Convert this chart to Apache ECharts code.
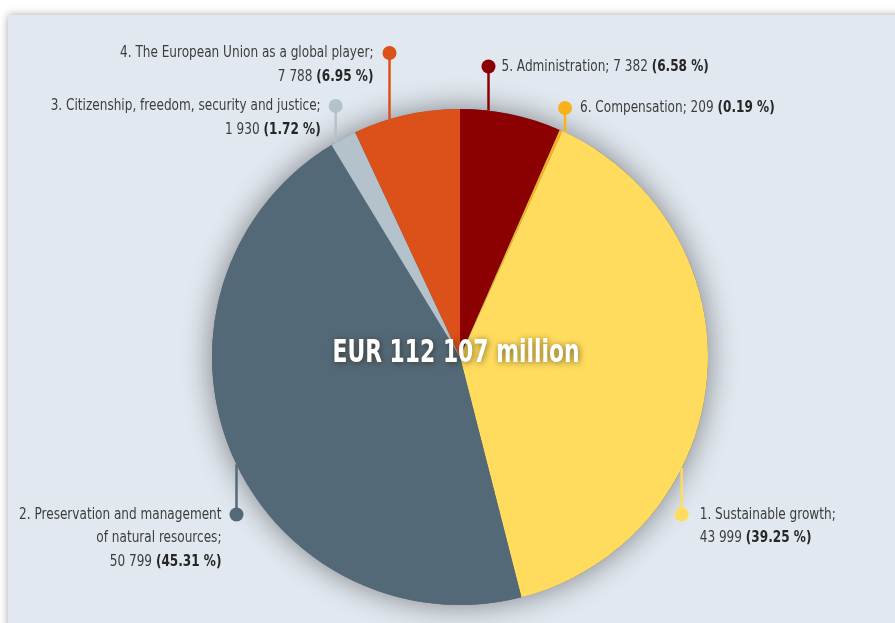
<!DOCTYPE html>
<html>
<head>
<meta charset="utf-8">
<script src="https://cdn.jsdelivr.net/npm/echarts@6/dist/echarts.min.js"></script>
<style>
  html, body { margin: 0; padding: 0; background: #ffffff; overflow: hidden; }
  #panel { position: absolute; left: 8px; top: 15px; width: 900px; height: 620px;
           background: #e1e8ef; box-shadow: 0 0 8px rgba(0,0,0,0.35); }
  #chart { position: absolute; left: 0; top: 0; width: 895px; height: 623px; }
</style>
</head>
<body>
<div id="panel"></div>
<div id="chart"></div>
<script>
// ---- data (clockwise from 12 o'clock) ----
const categoryLines = [
  ['5. Administration;'],
  ['6. Compensation;'],
  ['1. Sustainable growth;'],
  ['2. Preservation and management', 'of natural resources;'],
  ['3. Citizenship, freedom, security and justice;'],
  ['4. The European Union as a global player;']
];
const values = [7382, 209, 43999, 50799, 1930, 7788];
const valueTexts = ['7 382', '209', '43 999', '50 799', '1 930', '7 788'];
const percentTexts = ['6.58 %', '0.19 %', '39.25 %', '45.31 %', '1.72 %', '6.95 %'];
const totalText = 'EUR 112 107 million';

// ---- styles / layout ----
const colors = ['#8b0000', '#f8b21c', '#ffdc5e', '#546977', '#b4c2cb', '#dc5119'];
const CX = 460, CY = 357, R = 248;
const DOT = 14, LINE_H = 23.5, TEXT_SCALE = 0.84;
const FONT = '"Liberation Sans Narrow", "Arial Narrow", "DejaVu Sans Condensed", sans-serif';
const sameLine = [true, true, false, false, false, false];
const labelSpec = [
  { dotX: 488.5, dotY: 66.5, side: 'left',  edge: 'top',    gap: 6 },
  { dotX: 565,   dotY: 108,  side: 'left',  edge: 'top',    gap: 8 },
  { dotX: 681.7, dotY: 514.5, side: 'left', edge: 'bottom', gap: 11 },
  { dotX: 236.5, dotY: 514.5, side: 'right', edge: 'bottom', gap: 8 },
  { dotX: 335.7, dotY: 106,  side: 'right', edge: 'top',    gap: 8 },
  { dotX: 389.5, dotY: 53,   side: 'right', edge: 'top',    gap: 9 }
];

function labelRich(i) {
  const lines = categoryLines[i].map(function (l) { return '{t|' + l + '}'; });
  if (sameLine[i]) {
    const last = categoryLines[i][categoryLines[i].length - 1];
    lines[lines.length - 1] = '{t|' + last + ' ' + valueTexts[i] + ' }{b|(' + percentTexts[i] + ')}';
  } else {
    lines.push('{t|' + valueTexts[i] + ' }{b|(' + percentTexts[i] + ')}');
  }
  return lines.join('\n');
}

const pieData = values.map(function (v, i) {
  return {
    value: v,
    name: categoryLines[i].join(' '),
    itemStyle: { color: colors[i] },
    label: {
      show: true,
      formatter: '{dot| }',
      rich: {
        dot: { width: DOT, height: DOT, borderRadius: DOT / 2, backgroundColor: colors[i], lineHeight: DOT, fontSize: 10 }
      }
    },
    labelLine: { show: true, lineStyle: { color: colors[i], width: 2.5 } }
  };
});

const textGraphics = labelSpec.map(function (s, i) {
  const al = s.side;
  const base = { fontFamily: FONT, fontSize: 16, lineHeight: LINE_H, align: al };
  return {
    type: 'text',
    x: s.side === 'left' ? s.dotX + DOT / 2 + s.gap : s.dotX - DOT / 2 - s.gap,
    y: s.dotY - LINE_H / 2,
    scaleX: TEXT_SCALE,
    z: 50,
    silent: true,
    style: {
      text: labelRich(i),
      align: al,
      verticalAlign: 'top',
      fontFamily: FONT,
      fontSize: 16,
      lineHeight: LINE_H,
      fill: '#3d3d3d',
      rich: {
        t: Object.assign({}, base, { fill: '#3d3d3d', color: '#3d3d3d' }),
        b: Object.assign({}, base, { fill: '#262626', color: '#262626', fontWeight: 'bold' })
      }
    }
  };
});

const chart = echarts.init(document.getElementById('chart'), null, { renderer: 'canvas' });
chart.setOption({
  backgroundColor: 'transparent',
  animation: false,
  series: [
    {
      type: 'pie',
      silent: true,
      center: [CX, CY],
      radius: R,
      z: 1,
      data: [{ value: 1, itemStyle: { color: '#546977', shadowBlur: 30, shadowColor: 'rgba(0,0,0,0.45)' } }],
      label: { show: false },
      labelLine: { show: false },
      emphasis: { disabled: true }
    },
    {
      type: 'pie',
      z: 2,
      center: [CX, CY],
      radius: R,
      startAngle: 90,
      clockwise: true,
      avoidLabelOverlap: false,
      emphasis: { disabled: true },
      itemStyle: { borderWidth: 0 },
      label: { position: 'outside' },
      labelLayout: function (params) {
        const s = labelSpec[params.dataIndex];
        const dx = s.dotX - CX;
        const h = Math.sqrt(Math.max(0, R * R - dx * dx));
        const edgeY = s.edge === 'bottom' ? CY + h : CY - h;
        return {
          x: s.dotX,
          y: s.dotY,
          align: 'center',
          verticalAlign: 'middle',
          labelLinePoints: [[s.dotX, edgeY], [s.dotX, s.dotY], [s.dotX, s.dotY]]
        };
      },
      data: pieData
    }
  ],
  graphic: textGraphics.concat([
    {
      type: 'text',
      x: 456,
      y: 354,
      z: 100,
      scaleX: 0.76,
      silent: true,
      style: {
        text: totalText,
        fontFamily: FONT,
        fontSize: 32,
        fontWeight: 'bold',
        fill: '#ffffff',
        align: 'center',
        verticalAlign: 'middle',
        textShadowColor: 'rgba(40,30,0,0.6)',
        textShadowBlur: 6,
        textShadowOffsetX: 1,
        textShadowOffsetY: 1
      }
    }
  ])
});
</script>
</body>
</html>
